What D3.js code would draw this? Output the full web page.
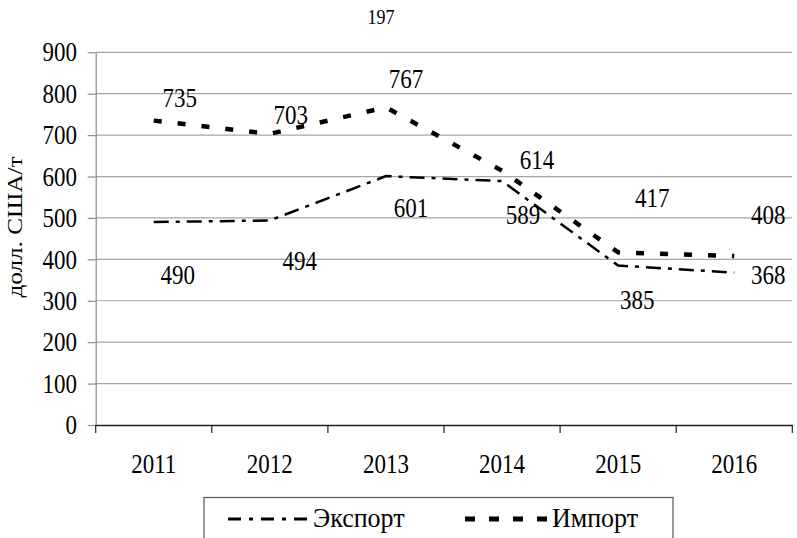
<!DOCTYPE html>
<html><head><meta charset="utf-8">
<script src="https://cdn.jsdelivr.net/npm/d3@7/dist/d3.min.js"></script>
<style>body{margin:0;background:#fff}svg{display:block}text{font-family:"Liberation Serif","Times New Roman","DejaVu Serif",serif;fill:#000}</style>
</head><body><svg id="c" width="797" height="538"></svg>
<script>
const years = ["2011","2012","2013","2014","2015","2016"];
const exportValues = [490, 494, 601, 589, 385, 368];
const importValues = [735, 703, 767, 614, 417, 408];
const yTicks = [0,100,200,300,400,500,600,700,800,900];
const seriesNames = ["Экспорт","Импорт"];
const yTitle = "долл. США/т";
const pageNumber = "197";
// label offsets (px) relative to each point, as placed in the reference
const exportLabelOffsets = [[24,53],[30,40],[25,32],[21,34],[19,34],[34,2]];
const importLabelOffsets = [[26,-23],[21,-19],[20,-29],[35,-11],[34,-54],[34,-41]];

(function(){
const FONT = '"Liberation Serif","Times New Roman","DejaVu Serif",serif';
const SY = 1.17; // the reference text is stretched vertically
const svg = d3.select("#c");
const pL = 95.7, pR = 792.3, pT = 52.3, pB = 425;
const x = d3.scaleBand().domain(years).range([pL, pR]);
const y = d3.scaleLinear().domain([0, 900]).range([pB, pT]);
const cx = d => x(d) + x.bandwidth()/2;

function txt(g, tx, ty, str, size, anchor, sy){
  return g.append("text").attr("transform", `translate(${tx},${ty}) scale(1,${sy || SY})`)
    .attr("text-anchor", anchor || "middle").attr("dy", "0.34em")
    .attr("font-family", FONT).style("font-size", size + "px").text(str);
}

// gridlines
svg.append("g").selectAll("line").data(yTicks.filter(t => t > 0)).join("line")
  .attr("x1", pL).attr("x2", pR).attr("y1", d => y(d)).attr("y2", d => y(d))
  .attr("stroke", "#a6a6a6").attr("stroke-width", 1.2);

// y axis
const ya = svg.append("g").attr("transform", `translate(${pL},0)`)
  .call(d3.axisLeft(y).tickValues(yTicks).tickSize(8).tickFormat("").tickSizeOuter(0));
ya.select(".domain").attr("stroke", "#8c8c8c").attr("stroke-width", 1.2);
ya.selectAll(".tick line").attr("stroke", "#8c8c8c").attr("stroke-width", 1.2);
const yl = svg.append("g");
yTicks.forEach(t => txt(yl, 77, y(t), String(t), 23, "end"));

// x axis
const xa = svg.append("g").attr("transform", `translate(0,${pB})`)
  .call(d3.axisBottom(x).tickSize(0).tickFormat(""));
xa.select(".domain").attr("stroke", "#222").attr("stroke-width", 1.4);
const bounds = years.map(d => x(d)).concat([x(years[years.length-1]) + x.bandwidth()]);
xa.selectAll("line.bt").data(bounds).join("line").attr("class","bt")
  .attr("x1", d => d).attr("x2", d => d).attr("y1", 0).attr("y2", 8)
  .attr("stroke", "#222").attr("stroke-width", 1.2);
const xl = svg.append("g");
years.forEach(yr => txt(xl, cx(yr), 464, yr, 23, "middle"));

// lines
const line = vals => d3.line().x((d,i) => cx(years[i])).y(d => y(d))(vals);
svg.append("path").attr("d", line(exportValues)).attr("fill","none")
  .attr("stroke","#000").attr("stroke-width",2.5).attr("stroke-dasharray","15,7,4,7");
svg.append("path").attr("d", line(importValues)).attr("fill","none")
  .attr("stroke","#000").attr("stroke-width",4.5).attr("stroke-dasharray","8,16");

// data labels
const dl = svg.append("g");
importValues.forEach((v,i) => txt(dl, cx(years[i]) + importLabelOffsets[i][0], y(v) + importLabelOffsets[i][1], String(v), 23));
exportValues.forEach((v,i) => txt(dl, cx(years[i]) + exportLabelOffsets[i][0], y(v) + exportLabelOffsets[i][1], String(v), 23));

// y title
svg.append("text").attr("transform", "translate(15,227) rotate(-90) scale(1.2,1)")
  .attr("text-anchor","middle").attr("dy","0.34em").attr("font-family", FONT)
  .style("font-size","21px").text(yTitle);

// page number
txt(svg, 381, 17, pageNumber, 18);

// legend
const lg = svg.append("g");
lg.append("rect").attr("x",204).attr("y",497.5).attr("width",469).attr("height",50)
  .attr("fill","none").attr("stroke","#555").attr("stroke-width",1.2);
const ly = 518;
lg.append("line").attr("x1",228).attr("x2",310).attr("y1",ly + 1).attr("y2",ly + 1)
  .attr("stroke","#000").attr("stroke-width",3).attr("stroke-dasharray","13,8,4,8");
txt(lg, 313, ly, seriesNames[0], 26, "start", 1.05);
lg.append("line").attr("x1",465).attr("x2",547).attr("y1",ly + 1).attr("y2",ly + 1)
  .attr("stroke","#000").attr("stroke-width",5).attr("stroke-dasharray","10,14");
txt(lg, 552, ly, seriesNames[1], 26, "start", 1.05);
})();
</script></body></html>
